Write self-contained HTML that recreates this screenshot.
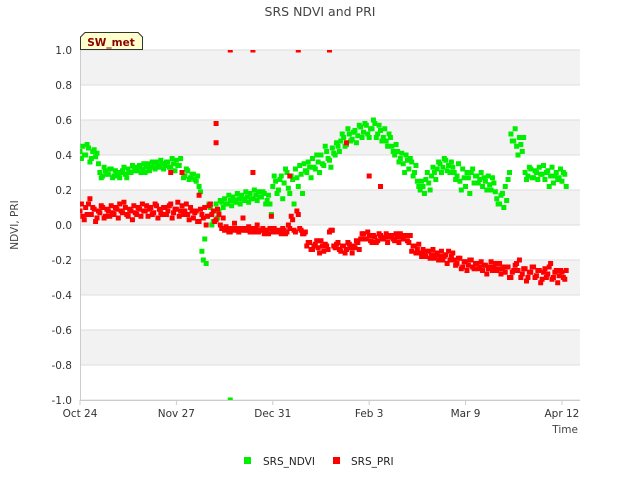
<!DOCTYPE html>
<html><head><meta charset="utf-8"><style>
body{margin:0;background:#fff;font-family:"DejaVu Sans",sans-serif}
svg text{font-family:"DejaVu Sans",sans-serif}
</style></head><body>
<svg id="chart" width="640" height="480" xmlns="http://www.w3.org/2000/svg">
<text x="320" y="16" text-anchor="middle" font-size="12.5" fill="#444">SRS NDVI and PRI</text>
<g id="bands"></g>
<g id="yaxis"></g>
<g id="xaxis"></g>
<g id="marks"></g>
<text transform="translate(18,225) rotate(-90)" text-anchor="middle" font-size="10.5" fill="#444">NDVI, PRI</text>
<text x="578" y="433" text-anchor="end" font-size="10.5" fill="#444">Time</text>
<g>
<path d="M80.5,49.5 L80.5,37 L85,32.5 L138,32.5 L142.5,37 L142.5,49.5 Z" fill="#ffffcc" stroke="#333" stroke-width="1"/>
<text x="111" y="46" text-anchor="middle" font-size="10.5" font-weight="bold" fill="#8b0000">SW_met</text>
</g>
<g>
<rect x="244" y="457" width="7" height="7" fill="#00ee00"/>
<text x="263" y="465" font-size="10.5" fill="#222">SRS_NDVI</text>
<rect x="333" y="457" width="7" height="7" fill="#ff0000"/>
<text x="351" y="465" font-size="10.5" fill="#222">SRS_PRI</text>
</g>
</svg>
<script>
const xTickLabels=["Oct 24","Nov 27","Dec 31","Feb 3","Mar 9","Apr 12"];
const xTickDays=[0,34,68,102,136,170];
const yTicks=[1.0,0.8,0.6,0.4,0.2,0.0,-0.2,-0.4,-0.6,-0.8,-1.0];
const ndvi1=[.42,.45,.40,.44,.38,.43,.41,.30,.28,.31,.29,.32,.28,.30,.27,.31,.29,.32,.30,.33,.31,.34,.32,.30,.35,.33,.34,.36,.33,.35,.34,.36,.33,.35,.37,.34,.30,.28,.31,.27,.29,.25,.22,-.15,-.08,.05,.10,.02,.12,.08,.13,.15,.12,.14,.16,.13,.15,.17,.14,.16,.18,.15,.17,.19,.16,.18,.14,.12,.22,.25,.20,.28,.24,.30,.18,.26,.32,.22,.29,.35,.30,.33,.38,.32,.36,.40,.34,.42,.37,.44,.40,.45,.48,.50,.46,.52,.49,.54,.51,.56,.53,.57,.50,.55,.58,.52,.54,.50,.48,.52,.45,.40,.42,.38,.35,.40,.32,.36,.30,.25,.20,.22,.26,.24,.28,.30,.32,.35,.33,.37,.34,.36,.30,.28,.25,.32,.22,.27,.30,.24,.28,.26,.22,.25,.28,.20,.24,.15,.12,.18,.22,.26,.52,.48,.45,.50,.42,.30,.28,.32,.27,.30,.33,.29,.26,.31,.28,.24,.30,.27,.25,.29];
const ndvi2=[.38,.40,.46,.36,.42,.39,.35,.27,.33,.29,.32,.27,.31,.28,.30,.33,.27,.30,.34,.31,.33,.30,.35,.33,.31,.36,.32,.34,.37,.32,.36,.33,.38,.31,.34,.38,.27,.32,.26,.29,.26,.28,.19,-.20,-.22,.12,.00,.08,.04,.14,.10,.12,.17,.11,.14,.18,.12,.15,.19,.13,.15,.20,.14,.16,.19,.12,.17,.06,.28,.18,.26,.15,.32,.21,.28,.12,.27,.34,.18,.31,.36,.27,.33,.40,.30,.35,.45,.38,.33,.41,.47,.42,.52,.45,.55,.48,.53,.47,.57,.50,.58,.52,.55,.60,.50,.57,.48,.55,.45,.50,.42,.46,.36,.41,.30,.37,.38,.28,.34,.22,.25,.18,.30,.20,.33,.26,.36,.30,.38,.31,.30,.33,.26,.35,.20,.27,.30,.18,.32,.28,.24,.30,.27,.20,.23,.27,.19,.12,.17,.10,.14,.30,.48,.55,.40,.46,.50,.26,.33,.27,.31,.26,.29,.34,.30,.22,.33,.28,.26,.32,.30,.22];
const pri1=[.08,.05,.10,.12,.06,.09,.04,.07,.10,.05,.08,.11,.06,.09,.12,.07,.10,.05,.08,.11,.06,.09,.12,.08,.05,.10,.07,.11,.09,.06,.10,.08,.12,.07,.09,.05,.11,.08,.06,.10,.04,.08,.02,.06,.10,.05,.12,.08,.03,.06,-.02,-.03,-.02,-.04,-.03,-.02,-.04,-.03,-.02,-.03,-.04,-.03,-.02,-.04,-.03,-.05,-.03,-.02,-.04,-.03,-.04,-.05,-.03,-.04,-.02,.03,-.04,.06,-.03,-.05,-.12,-.10,-.14,-.11,-.13,-.09,-.15,-.12,-.04,-.03,-.13,-.10,-.15,-.12,-.14,-.11,-.16,-.13,-.10,-.08,-.05,-.08,-.06,-.10,-.07,-.09,-.06,-.08,-.05,-.07,-.06,-.09,-.07,-.05,-.08,-.06,-.10,-.15,-.12,-.14,-.16,-.14,-.18,-.15,-.17,-.19,-.16,-.18,-.20,-.17,-.15,-.18,-.20,-.22,-.19,-.24,-.21,-.23,-.20,-.25,-.22,-.24,-.26,-.23,-.25,-.21,-.24,-.26,-.22,-.25,-.27,-.24,-.30,-.26,-.22,-.20,-.28,-.25,-.30,-.27,-.24,-.29,-.26,-.31,-.25,-.28,-.22,-.30,-.26,-.29,-.27,-.31];
const pri2=[.12,.03,.06,.15,.10,.02,.08,.11,.04,.09,.05,.07,.10,.04,.08,.13,.06,.09,.03,.07,.10,.05,.08,.11,.09,.06,.12,.04,.07,.10,.06,.11,.04,.09,.13,.08,.06,.12,.03,.08,.07,.02,.09,.04,.00,.11,.06,.02,.09,.00,.04,-.01,-.04,-.02,.01,-.03,-.02,.04,-.03,-.01,-.02,-.04,.00,-.03,-.02,-.03,-.05,.05,-.02,-.04,-.03,-.02,-.05,.00,.05,-.03,.08,-.02,-.05,-.04,-.10,-.14,-.12,-.09,-.16,-.12,-.11,-.14,-.03,-.12,-.11,-.14,-.12,-.16,-.10,-.13,-.12,-.09,-.14,-.05,-.08,-.04,-.09,-.06,-.10,-.05,-.08,-.07,-.10,-.06,-.08,-.05,-.10,-.07,-.06,-.09,-.06,-.12,-.16,-.11,-.18,-.16,-.15,-.19,-.14,-.17,-.20,-.15,-.18,-.22,-.20,-.16,-.23,-.19,-.25,-.21,-.26,-.20,-.24,-.22,-.25,-.21,-.23,-.28,-.24,-.26,-.22,-.25,-.28,-.24,-.24,-.30,-.27,-.23,-.26,-.30,-.25,-.32,-.27,-.24,-.30,-.26,-.33,-.27,-.30,-.24,-.31,-.27,-.33,-.26,-.30,-.26];
const priExtraDays=[53,61,77,88,48,48,61,74,94,32,36,42,102,106];
const priExtraVals=[1.0,1.0,1.0,1.0,.58,.47,.30,.28,.47,.30,.30,.17,.28,.22];

const NS="http://www.w3.org/2000/svg";
const L=80,R=580,T=50,B=400,dayPx=2.835;
const xs=d=>L+d*dayPx;
const ys=v=>T+(1-v)/2*(B-T);
function mk(tag,attrs,parent){const e=document.createElementNS(NS,tag);for(const k in attrs)e.setAttribute(k,attrs[k]);parent.appendChild(e);return e;}
const bands=document.getElementById('bands'),yax=document.getElementById('yaxis'),xax=document.getElementById('xaxis'),marks=document.getElementById('marks');
for(let i=0;i<yTicks.length-1;i++){
  const y1=ys(yTicks[i]),y2=ys(yTicks[i+1]);
  const r=mk('rect',{x:L,y:y1,width:R-L,height:y2-y1,fill:(i%2===0)?'#f2f2f2':'#ffffff'},bands);
  
  
}
yTicks.forEach(v=>{
  const y=ys(v);
  const ln=mk('line',{x1:L,x2:R,y1:y,y2:y,stroke:'#dddddd','stroke-width':1},yax);
  
  
  const t=mk('text',{x:L-8,y:y+4,'text-anchor':'end','font-size':10.5,fill:'#333'},yax);
  t.textContent=v.toFixed(1);
  
  
});
mk('line',{x1:L+0.5,x2:L+0.5,y1:T,y2:B,stroke:'#cccccc'},yax);
mk('line',{x1:L,x2:R,y1:B+0.5,y2:B+0.5,stroke:'#cccccc'},xax);
xTickDays.forEach((d,i)=>{
  const x=xs(d);
  mk('line',{x1:x,x2:x,y1:B,y2:B+5,stroke:'#cccccc'},xax);
  const t=mk('text',{x:x,y:B+17,'text-anchor':'middle','font-size':10.5,fill:'#333'},xax);
  t.textContent=xTickLabels[i];
  
  
});
const clip=mk('clipPath',{id:'pc'},document.getElementById('chart'));
mk('rect',{x:L,y:T,width:R-L,height:B-T},clip);
marks.setAttribute('clip-path','url(#pc)');
function pt(d,v,color,name){
  const r=mk('rect',{x:xs(d)-2.5,y:ys(v)-2.5,width:5,height:5,fill:color},marks);
  
  
}
ndvi1.forEach((v,d)=>pt(d,v,'#00ee00','ndvi-point'));
ndvi2.forEach((v,d)=>pt(d+0.5,v,'#00ee00','ndvi-point'));
pri1.forEach((v,d)=>pt(d,v,'#ff0000','pri-point'));
pri2.forEach((v,d)=>pt(d+0.5,v,'#ff0000','pri-point'));
priExtraDays.forEach((d,i)=>pt(d,priExtraVals[i],'#ff0000','pri-point'));
pt(53,-1.0,'#00ee00','ndvi-point');
</script>
</body></html>
